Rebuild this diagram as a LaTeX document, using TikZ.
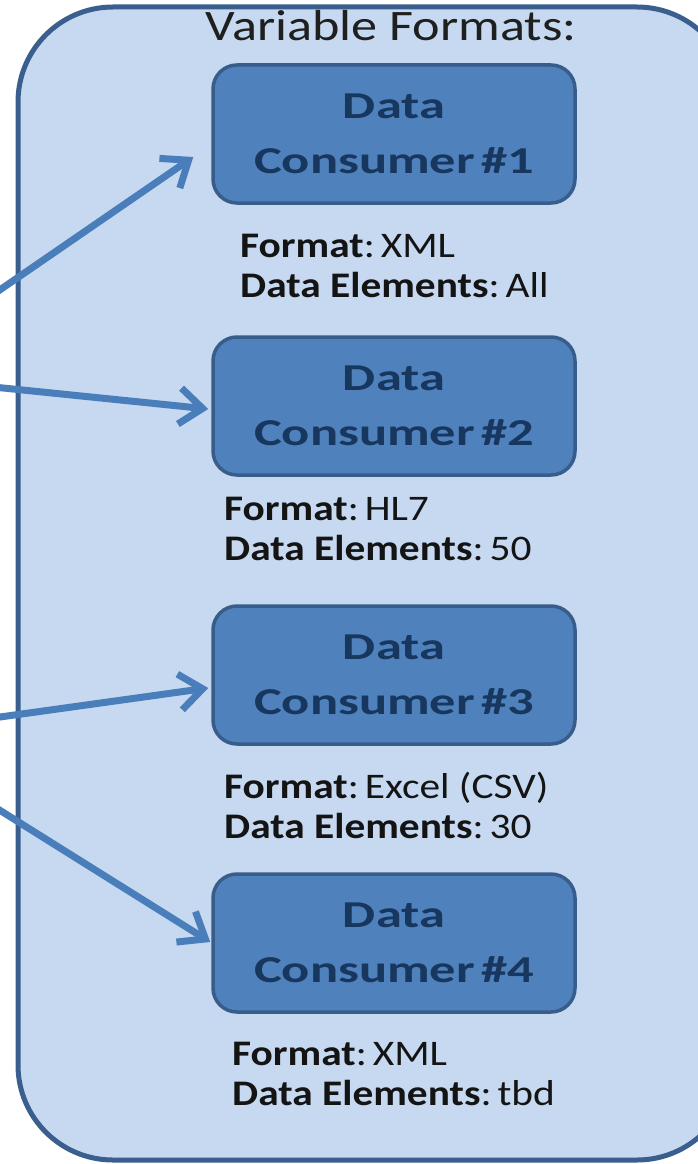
\documentclass[tikz,border=0pt]{standalone}
\usepackage{fontspec}
\setmainfont{Carlito}
\newfontfamily\titlefont[FakeStretch=1.2]{Carlito}
\newfontfamily\boxfont[FakeStretch=1.38]{Carlito}
\newfontfamily\infofont[FakeStretch=1.15]{Carlito}
\usetikzlibrary{arrows.meta}

\definecolor{panelfill}{HTML}{C6D9F1}
\definecolor{paneledge}{HTML}{3A5F8F}
\definecolor{boxfill}{HTML}{4F81BD}
\definecolor{boxedge}{HTML}{385D8A}
\definecolor{boxtext}{HTML}{17375E}
\definecolor{flowblue}{HTML}{4A7EBB}

\tikzset{consumer/.style = {shape = rectangle,
                            rounded corners = 24pt,
                            fill = boxfill,
                            draw = boxedge,
                            line width = 3.5pt,
                            minimum width = 362pt,
                            minimum height = 138pt,
                            align = center,
                            text = boxtext,
                            font = \boxfont\bfseries\fontsize{38}{55}\selectfont},
         info/.style = {anchor = north west,
                        inner sep = 0pt,
                        align = left,
                        text = black!92,
                        font = \infofont\fontsize{36}{40}\selectfont},
         flow/.style = {draw = flowblue,
                        line width = 7pt,
                        -{Straight Barb[length=23pt, width=36pt]}}}

\begin{document}
\begin{tikzpicture}[x=1pt, y=-1pt]
		\useasboundingbox (0,0) rectangle (698,1164);
		\clip (0,0) rectangle (698,1164);
		% panel holding the consumers
		\draw[fill = panelfill, draw = paneledge, line width = 5pt, rounded corners = 95pt]
			(18,7) rectangle (732,1160);
		\node[anchor = base, text = black!88, font = \titlefont\fontsize{43.5}{48}\selectfont]
			(title) at (391,41) {Variable Formats:};
		% consumers
		\node[consumer] (box1) at (394,134) {Data\\Consumer\,\#1};
		\node[consumer] (box2) at (394,406) {Data\\Consumer\,\#2};
		\node[consumer] (box3) at (394,675) {Data\\Consumer\,\#3};
		\node[consumer] (box4) at (394,943) {Data\\Consumer\,\#4};
		\node[info] (info1) at (240,234) {\textbf{Format}:\,XML\\\textbf{Data Elements}:\,All};
		\node[info] (info2) at (224,497) {\textbf{Format}:\,HL7\\\textbf{Data Elements}:\,50};
		\node[info] (info3) at (224,772) {\textbf{Format}:\,Excel (CSV)\\\textbf{Data Elements}:\,30};
		\node[info] (info4) at (232,1042) {\textbf{Format}:\,XML\\\textbf{Data Elements}:\,tbd};
		% feeds coming in from the left
		\coordinate (srcA) at (-124,375);
		\coordinate (srcB) at (-122,734);
		\path (srcA) edge[flow] ([shift={(-18,23)}]box1.west);
		\path (srcA) edge[flow] ([shift={(-3,3)}]box2.west);
		\path (srcB) edge[flow] ([shift={(-3,13)}]box3.west);
		\path (srcB) edge[flow] ([shift={(-1,-1)}]box4.west);
	\end{tikzpicture}
\end{document}
